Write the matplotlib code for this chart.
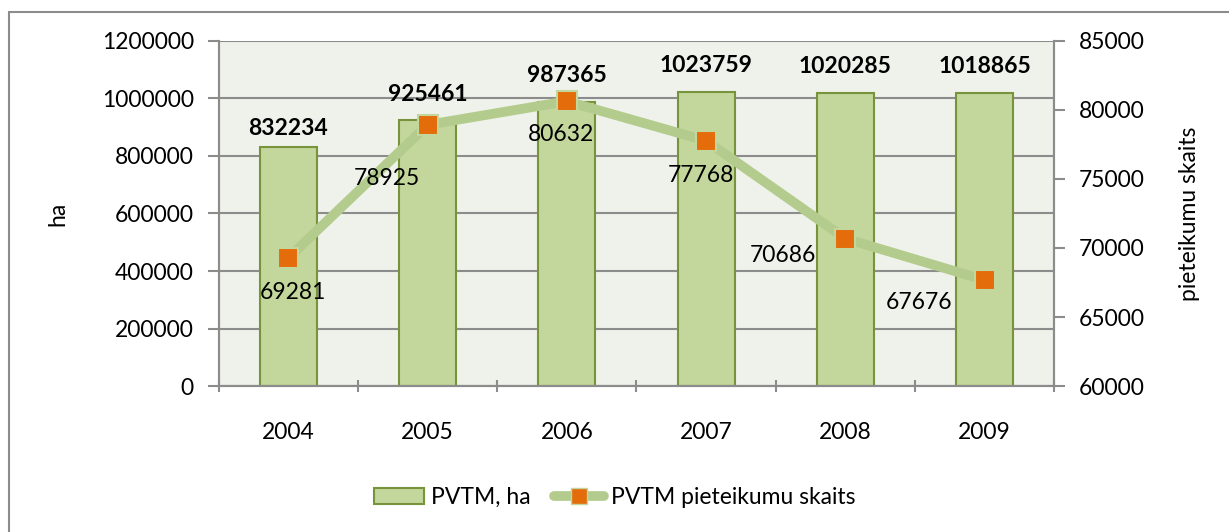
import matplotlib.pyplot as plt
from matplotlib.patches import Rectangle
import numpy as np

plt.rcParams['font.family'] = ['Lato', 'DejaVu Sans']

# data
years = ['2004', '2005', '2006', '2007', '2008', '2009']
area_ha = [832234, 925461, 987365, 1023759, 1020285, 1018865]
applications = [69281, 78925, 80632, 77768, 70686, 67676]

# label placement (offset in points)
area_offsets = [13, 18, 19, 19, 19, 19]
app_offsets = [(3, -25), (-29, -39), (-4, -24), (-4, -25), (-45, -12), (-47, -16)]

fs = 16.5
fig = plt.figure(figsize=(12.29, 5.32), dpi=100)
ax = fig.add_axes([0.178, 0.2744, 0.6798, 0.6486])
ax2 = ax.twinx()

grid_c = '#8c8c8c'
x = np.arange(len(years))

ax.set_facecolor('#eff2ea')
ax.bar(x, area_ha, width=0.41, color='#c3d69b', edgecolor='#77933c', linewidth=1.5, zorder=2)
for xi, v, off in zip(x, area_ha, area_offsets):
    ax.annotate(str(v), (xi, v), xytext=(0, off), textcoords='offset points',
                ha='center', va='center', fontsize=fs, fontweight='bold')

ax.set_xlim(-0.5, 5.5)
ax.set_ylim(0, 1200000)
ax.set_yticks(np.arange(0, 1200001, 200000))
ax.set_yticklabels([str(v) for v in range(0, 1200001, 200000)])
ax.set_xticks(x)
ax.set_xticklabels(years)
ax.set_xticks(np.arange(-0.5, 5.6, 1), minor=True)
ax.tick_params(axis='x', which='major', length=0, pad=26, labelsize=fs)
ax.tick_params(axis='x', which='minor', length=8, color=grid_c, width=1.5, direction='inout')
ax.tick_params(axis='y', length=8, color=grid_c, width=1.5, labelsize=fs, pad=10)
ax.yaxis.grid(True, color=grid_c, linewidth=1.5, zorder=0)
ax.set_axisbelow(True)
ax.set_ylabel('ha', fontsize=fs, labelpad=24)

ax2.plot(x, applications, color='#b3cc8e', linewidth=7, marker='s', markersize=14,
         markerfacecolor='#e46c0a', markeredgecolor='#c3d69b', markeredgewidth=1.5,
         solid_capstyle='round', zorder=3)
for xi, v, off in zip(x, applications, app_offsets):
    ax2.annotate(str(v), (xi, v), xytext=off, textcoords='offset points',
                 ha='center', va='center', fontsize=fs)
ax2.set_ylim(60000, 85000)
ax2.set_yticks(np.arange(60000, 85001, 5000))
ax2.tick_params(axis='y', length=8, color=grid_c, width=1.5, labelsize=fs, pad=10)
ax2.set_ylabel('pieteikumu skaits', fontsize=fs, labelpad=24)

for a in (ax, ax2):
    for s in a.spines.values():
        s.set_color(grid_c)
        s.set_linewidth(1.5)
ax.spines['top'].set_visible(False)
ax2.spines['top'].set_visible(False)

# legend
bar_handle = Rectangle((0, 0), 1, 1, facecolor='#c3d69b', edgecolor='#77933c', linewidth=1.5)
line_handle = plt.Line2D([], [], color='#b3cc8e', linewidth=7, marker='s', markersize=12,
                         markerfacecolor='#e46c0a', markeredgecolor='#c3d69b',
                         solid_capstyle='round')
fig.legend([bar_handle, line_handle], ['PVTM, ha', 'PVTM pieteikumu skaits'],
           loc='center', bbox_to_anchor=(0.5, 0.065), ncol=2, frameon=False,
           fontsize=fs, handlelength=2.2, columnspacing=1.0, handletextpad=0.3)

# outer chart border
fig.patches.append(Rectangle((9 / 1229, -0.1), 1.2, 1.1 - 12 / 532, transform=fig.transFigure,
                             fill=False, edgecolor='#8c8c8c', linewidth=1.5, zorder=0))

fig.savefig('out.png', dpi=100)
